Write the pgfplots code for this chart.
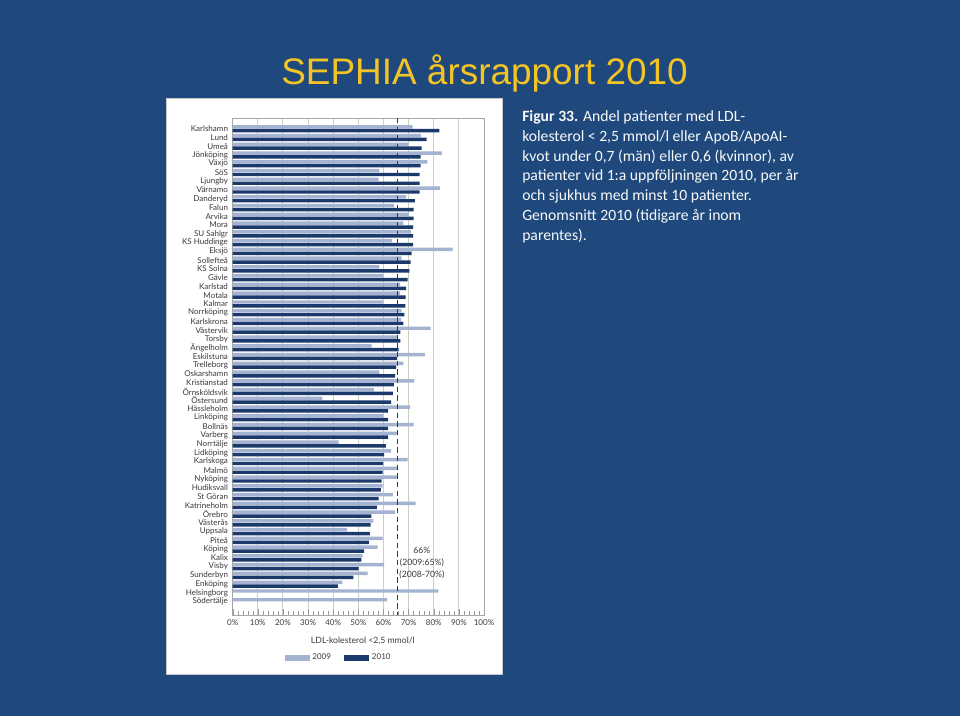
\documentclass[border=0pt]{standalone}
\usepackage{fontspec}
\setmainfont{Lato}
\newfontfamily\titlefont{Liberation Sans}
\newfontfamily\calfont{Carlito}
\usepackage{pgfplots}
\pgfplotsset{compat=1.18}
\definecolor{bg}{HTML}{1F497D}
\definecolor{titley}{HTML}{F4C425}
\definecolor{cA}{HTML}{A3B3D1}
\definecolor{cB}{HTML}{1B3A6B}
\definecolor{gridc}{HTML}{C8D0BE}
\definecolor{labc}{HTML}{3A3A3A}
\begin{document}
\begin{tikzpicture}[x=1pt,y=1pt]
\fill[bg] (0,0) rectangle (720,537);
\fill[white, draw=gray!45, line width=0.6pt] (124.5,31.5) rectangle (376.5,463.5);
\node[anchor=base west, inner sep=0, text=titley, font=\titlefont\fontsize{27.7}{30}\selectfont] at (210.75,473.25) {SEPHIA årsrapport 2010};
\node[anchor=north west, inner sep=0, align=left, text=white!95!gray, font=\calfont\fontsize{11.75}{14.8}\selectfont] at (391.5,454.1)
{\textbf{Figur 33.} Andel patienter med LDL-\\
kolesterol < 2,5 mmol/l eller ApoB/ApoAI-\\
kvot under 0,7 (män) eller 0,6 (kvinnor), av\\
patienter vid 1:a uppföljningen 2010, per år\\
och sjukhus med minst 10 patienter.\\
Genomsnitt 2010 (tidigare år inom\\
parentes).};
\begin{axis}[
  at={(174.5pt,75.75pt)}, anchor=south west,
  scale only axis, width=188.5pt, height=372.75pt,
  xbar, bar width=2.6pt,
  xmin=0, xmax=100, ymin=-1.23, ymax=55.52, y dir=reverse,
  ytick={0,...,54},
  yticklabels={Karlshamn,Lund,Umeå,Jönköping,Växjö,SöS,Ljungby,Värnamo,Danderyd,Falun,Arvika,Mora,SU Sahlgr,KS Huddinge,Eksjö,Sollefteå,KS Solna,Gävle,Karlstad,Motala,Kalmar,Norrköping,Karlskrona,Västervik,Torsby,Ängelholm,Eskilstuna,Trelleborg,Oskarshamn,Kristianstad,Örnsköldsvik,Östersund,Hässleholm,Linköping,Bollnäs,Varberg,Norrtälje,Lidköping,Karlskoga,Malmö,Nyköping,Hudiksvall,St Göran,Katrineholm,Örebro,Västerås,Uppsala,Piteå,Köping,Kalix,Visby,Sunderbyn,Enköping,Helsingborg,Södertälje},
  ytick style={draw=none},
  xtick={0,10,...,100},
  xtick pos=left,
  xticklabel={\pgfmathprintnumber{\tick}\%},
  minor x tick num=4,
  tick align=inside,
  xtick style={color=gray!80},
  xmajorgrids, major grid style={gridc, line width=0.7pt},
  axis line style={gray!70},
  ticklabel style={font=\fontsize{6}{7}\selectfont, text=labc},
  /pgf/number format/assume math mode=true,
  xlabel={LDL-kolesterol <2,5 mmol/l},
  xlabel style={at={(axis description cs:0.518,-0.052)}, anchor=center, font=\fontsize{6.5}{8}\selectfont, text=labc},
  legend columns=2,
  legend style={at={(0.423,-0.0865)}, anchor=center, draw=none, fill=none, font=\fontsize{6}{7}\selectfont, text=labc,
    /tikz/every even column/.append style={column sep=8pt}},
  legend image code/.code={\fill[#1] (0pt,-2pt) rectangle (18.75pt,2pt);},
  clip=false,
]
\addplot[fill=cA, draw=none, bar shift=1.45pt] coordinates {
(71.6,0) (74.9,1) (69.9,2) (83.2,3) (77.5,4) (58.4,5) (58.1,6) (82.4,7) (69.0,8) (64.2,9)
(70.0,10) (67.9,11) (71.0,12) (63.3,13) (87.5,14) (67.2,15) (58.4,16) (59.9,17) (66.6,18) (66.6,19)
(59.9,20) (67.2,21) (67.0,22) (78.8,23) (65.3,24) (55.3,25) (76.5,26) (67.9,27) (58.4,28) (72.3,29)
(56.2,30) (35.7,31) (70.6,32) (59.9,33) (72.0,34) (65.6,35) (42.2,36) (63.0,37) (69.6,38) (65.6,39)
(65.6,40) (59.7,41) (63.7,42) (72.8,43) (64.6,44) (56.0,45) (45.5,46) (59.7,47) (57.7,48) (51.7,49)
(60.3,50) (53.7,51) (43.6,52) (81.8,53) (61.5,54)};
\addplot[fill=cB, draw=none, bar shift=-1.45pt] coordinates {
(82.2,0) (77.2,1) (75.2,2) (74.8,3) (74.8,4) (74.4,5) (74.4,6) (74.4,7) (72.5,8) (72.0,9)
(72.0,10) (71.8,11) (71.8,12) (71.8,13) (71.2,14) (70.8,15) (70.3,16) (69.6,17) (69.0,18) (68.8,19)
(68.7,20) (68.3,21) (67.9,22) (66.7,23) (66.7,24) (66.0,25) (65.4,26) (65.0,27) (64.6,28) (64.1,29)
(63.7,30) (63.0,31) (61.9,32) (61.9,33) (61.9,34) (61.9,35) (61.0,36) (60.3,37) (59.9,38) (59.7,39)
(59.3,40) (59.0,41) (58.1,42) (57.4,43) (55.2,44) (54.9,45) (54.6,46) (54.2,47) (52.3,48) (51.2,49)
(50.1,50) (48.0,51) (41.9,52)};
\legend{2009,2010}
\addplot[cB, line width=1pt, dash pattern=on 4pt off 2.5pt, forget plot, sharp plot] coordinates {(65.5,-1.23) (65.5,55.52)};
\node[align=center, font=\fontsize{6.5}{9}\selectfont, text=labc] at (axis cs:75.3,49.6) {66\%\\(2009:65\%)\\(2008-70\%)};
\end{axis}
\end{tikzpicture}
\end{document}
